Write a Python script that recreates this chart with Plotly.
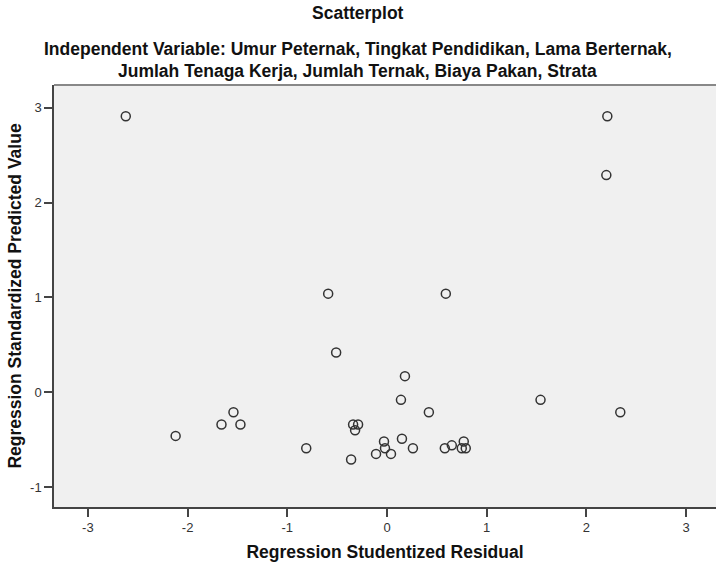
import plotly.graph_objects as go

# Data
studentized_residual = [-2.62, 2.21, 2.20, -0.59, 0.59, -0.51, 0.18, 0.14, 0.42, 1.54,
                        2.34, -1.54, -1.66, -1.47, -2.12, -0.34, -0.29, -0.32,
                        -0.81, -0.36, -0.11, -0.03, -0.02, 0.04, 0.15, 0.26,
                        0.58, 0.65, 0.77, 0.75, 0.79]
std_predicted = [2.91, 2.91, 2.29, 1.04, 1.04, 0.42, 0.17, -0.08, -0.21, -0.08,
                 -0.21, -0.21, -0.34, -0.34, -0.46, -0.34, -0.34, -0.40,
                 -0.59, -0.71, -0.65, -0.52, -0.59, -0.65, -0.49, -0.59,
                 -0.59, -0.56, -0.52, -0.59, -0.59]
x_ticks = [-3, -2, -1, 0, 1, 2, 3]
x_tick_labels = ["-3", "-2", "-1", "0", "1", "2", "3"]
y_ticks = [-1, 0, 1, 2, 3]
y_tick_labels = ["-1", "0", "1", "2", "3"]

FONT = "Liberation Sans, Arial, sans-serif"
TITLE_SIZE = 17.5

fig = go.Figure()
fig.add_trace(go.Scatter(
    x=studentized_residual, y=std_predicted, mode="markers",
    marker=dict(symbol="circle-open", size=9, color="#333333", line=dict(width=1.5)),
    hoverinfo="x+y", showlegend=False,
))

axis_common = dict(
    showgrid=False, zeroline=False, showline=True, linecolor="#444444", linewidth=1.5,
    ticks="outside", ticklen=8, tickwidth=1.5, tickcolor="#444444",
    tickfont=dict(family=FONT, size=13, color="#333333"),
)

fig.update_xaxes(range=[-3.34, 3.30], tickvals=x_ticks, ticktext=x_tick_labels, **axis_common,
                 title=dict(text="<b>Regression Studentized Residual</b>",
                            font=dict(family=FONT, size=TITLE_SIZE, color="#111111"), standoff=14))
fig.update_yaxes(range=[-1.21, 3.24], tickvals=y_ticks, ticktext=y_tick_labels, **axis_common,
                 title=dict(text="<b>Regression Standardized Predicted Value</b>",
                            font=dict(family=FONT, size=TITLE_SIZE, color="#111111"), standoff=4))

fig.add_shape(type="line", xref="paper", yref="paper", x0=0, x1=1, y0=1, y1=1,
              line=dict(color="#888888", width=2))

TOP = 85
cx = (357.5 - 54) / 662
title_lines = [
    ("<b>Scatterplot</b>", 13),
    ("<b>Independent Variable: Umur Peternak, Tingkat Pendidikan, Lama Berternak,</b>", 49),
    ("<b>Jumlah Tenaga Kerja, Jumlah Ternak, Biaya Pakan, Strata</b>", 71),
]
for text, ypix in title_lines:
    fig.add_annotation(text=text, xref="paper", yref="paper", x=cx, y=1,
                       yshift=TOP - ypix, showarrow=False, yanchor="middle",
                       font=dict(family=FONT, size=TITLE_SIZE, color="#111111"))

fig.update_layout(
    width=716, height=562,
    margin=dict(l=54, r=0, t=TOP, b=53),
    paper_bgcolor="white", plot_bgcolor="#F0F0F0",
)

fig.write_html("out.html")
